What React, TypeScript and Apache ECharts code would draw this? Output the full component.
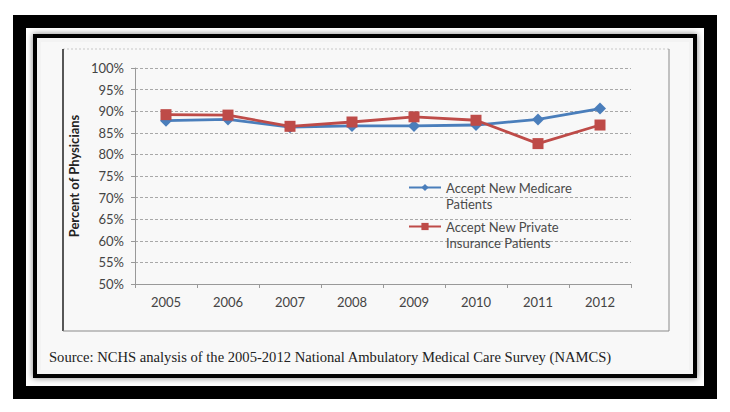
import React, { useEffect, useRef } from "react";
import * as echarts from "echarts";

const years = ["2005", "2006", "2007", "2008", "2009", "2010", "2011", "2012"];
const medicare = [87.8, 88.1, 86.3, 86.6, 86.6, 86.8, 88.1, 90.6];
const privateIns = [89.2, 89.1, 86.5, 87.5, 88.7, 87.9, 82.5, 86.8];
const medicareName = "Accept New Medicare\nPatients";
const privateName = "Accept New Private\nInsurance Patients";
const sourceText =
  "Source: NCHS analysis of the 2005-2012 National Ambulatory Medical Care Survey (NAMCS)";

const FONT = "Lato, 'Open Sans', sans-serif";

export default function App() {
  const ref = useRef<HTMLDivElement>(null);
  useEffect(() => {
    document.body.style.margin = "0";
    const chart = echarts.init(ref.current!, null, { renderer: "svg" });
    const L = 16;
    const legendText = {
      fontFamily: FONT,
      fontSize: 13,
      color: "#4a4a4a",
      rich: {
        p: { fontFamily: FONT, fontSize: 13, lineHeight: L, color: "#4a4a4a" },
        a: { fontFamily: FONT, fontSize: 13, lineHeight: L, color: "#4a4a4a" },
      },
    };
    const fmt = (name: string) =>
      "{p| }\n" + name.split("\n").map((s) => "{a|" + s + "}").join("\n");
    chart.setOption({
      animation: false,
      backgroundColor: "#ffffff",
      grid: { left: 135, top: 68, right: 99, bottom: 128 },
      graphic: [
        { type: "rect", shape: { x: 19.5, y: 21.5, width: 691, height: 371 }, style: { fill: "none", stroke: "#000", lineWidth: 13 }, z: 0 },
        {
          type: "rect",
          shape: { x: 35, y: 36, width: 660, height: 340 },
          style: { fill: "#f3f3f3", stroke: "#000", lineWidth: 4, shadowBlur: 6, shadowColor: "rgba(0,0,0,0.5)" },
          z: 0,
        },
        { type: "rect", shape: { x: 41, y: 42, width: 648, height: 328 }, style: { fill: "#f8f8f8" }, z: 0 },
        { type: "line", shape: { x1: 63, y1: 49, x2: 669, y2: 49 }, style: { stroke: "#c8c8c8", lineWidth: 1, lineDash: [2, 2] }, z: 1 },
        { type: "line", shape: { x1: 63, y1: 49, x2: 63, y2: 331 }, style: { stroke: "#222", lineWidth: 1.5 }, z: 1 },
        { type: "line", shape: { x1: 669, y1: 49, x2: 669, y2: 331 }, style: { stroke: "#8a8a8a", lineWidth: 1 }, z: 1 },
        { type: "line", shape: { x1: 63, y1: 331, x2: 669, y2: 331 }, style: { stroke: "#8a8a8a", lineWidth: 1 }, z: 1 },
        {
          type: "text",
          x: 49,
          y: 357,
          style: { text: sourceText, font: "14.6px 'Liberation Serif', 'Times New Roman', serif", fill: "#222", textVerticalAlign: "middle" },
          z: 2,
        },
      ],
      xAxis: {
        type: "category",
        data: years,
        boundaryGap: true,
        axisLine: { lineStyle: { color: "#999", width: 1 } },
        axisTick: { show: true, length: 4, lineStyle: { color: "#999" } },
        axisLabel: { color: "#444", fontFamily: FONT, fontSize: 13, margin: 11 },
      },
      yAxis: {
        type: "value",
        min: 50,
        max: 100,
        interval: 5,
        name: "Percent of Physicians",
        nameLocation: "middle",
        nameGap: 51,
        nameTextStyle: { fontFamily: FONT, fontSize: 13, fontWeight: "bold", color: "#222" },
        axisLine: { show: true, lineStyle: { color: "#999", width: 1 } },
        axisTick: { show: true, length: 4, lineStyle: { color: "#999" } },
        axisLabel: { color: "#444", fontFamily: FONT, fontSize: 13, margin: 11, formatter: (v: number) => v + "%" },
        splitLine: { show: true, lineStyle: { color: "#a8a8a8", type: [3, 2], width: 1 } },
      },
      legend: [
        {
          data: [medicareName],
          left: 408,
          top: 189 - 1.5 * L,
          padding: 0,
          itemWidth: 32,
          itemHeight: 9,
          formatter: fmt,
          textStyle: legendText,
        },
        {
          data: [privateName],
          left: 408,
          top: 228 - 1.5 * L,
          padding: 0,
          itemWidth: 32,
          itemHeight: 9,
          formatter: fmt,
          textStyle: legendText,
        },
      ],
      series: [
        {
          name: medicareName,
          type: "line",
          data: medicare,
          symbol: "diamond",
          symbolSize: 12,
          lineStyle: { color: "#4a7ebb", width: 2.8 },
          itemStyle: { color: "#4a7ebb" },
          z: 3,
        },
        {
          name: privateName,
          type: "line",
          data: privateIns,
          symbol: "rect",
          symbolSize: 11,
          lineStyle: { color: "#be4b48", width: 2.8 },
          itemStyle: { color: "#be4b48" },
          z: 4,
        },
      ],
    });
    return () => chart.dispose();
  }, []);
  return <div ref={ref} style={{ position: "fixed", left: 0, top: 0, width: 730, height: 412 }} />;
}
